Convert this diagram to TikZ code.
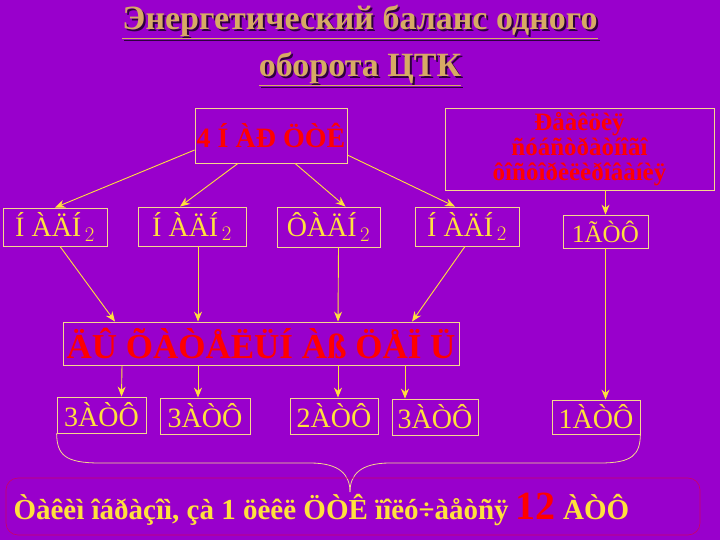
\documentclass[tikz,border=0pt]{standalone}
\usepackage{fontspec}
\setmainfont{Liberation Serif}
\usetikzlibrary{arrows.meta}
\definecolor{bg}{RGB}{153,0,204}
\definecolor{edge}{RGB}{245,215,140}
\definecolor{yel}{RGB}{255,225,60}
\definecolor{ttl}{RGB}{215,170,100}
\tikzset{
 box/.style={draw=edge, line width=0.8pt, inner sep=0pt},
 yt/.style={text=yel, font=\fontsize{28}{30}\selectfont},
 rt/.style={text=red, font=\bfseries\fontsize{28}{30}\selectfont},
 arr/.style={draw=yel, line width=0.9pt, -{Stealth[length=10pt,width=8pt]}},
 ttlt/.style={font=\bfseries\fontsize{34}{38}\selectfont}
}
\begin{document}
\begin{tikzpicture}[x=1pt,y=-1pt]
\fill[bg] (0,0) rectangle (720,540);
\useasboundingbox (0,0) rectangle (720,540);
% title
\node[ttlt, text=black!70!bg] (t1s) at (362,24) {\underline{Энергетический баланс одного}};
\node[ttlt, text=black!70!bg] (t2s) at (362,71) {\underline{оборота ЦТК}};
\node[ttlt, text=ttl] (t1) at (360,22) {\underline{Энергетический баланс одного}};
\node[ttlt, text=ttl] (t2) at (360,69) {\underline{оборота ЦТК}};
\node[box, minimum width=152, minimum height=55, rt] (top) at (271,135.5) {4 Í ÀÐ ÖÒÊ};
\node[box, minimum width=269, minimum height=82, rt, align=center, font=\bfseries\fontsize{25}{25}\selectfont] (sub) at (579.5,149) {Ðåàêöèÿ\\ñóáñòðàòíîãî\\ôîñôîðèëèðîâàíèÿ};
\node[box, minimum width=104, minimum height=38, yt] (n1) at (55,227) {Í ÀÄÍ$_{\,2}$};
\node[box, minimum width=108, minimum height=39, yt] (n2) at (192,226.5) {Í ÀÄÍ$_{\,2}$};
\node[box, minimum width=103, minimum height=40, yt] (n3) at (328.5,227) {ÔÀÄÍ$_{\,2}$};
\node[box, minimum width=104, minimum height=39, yt] (n4) at (467,226.5) {Í ÀÄÍ$_{\,2}$};
\node[box, minimum width=85, minimum height=33, yt, font=\fontsize{25}{27}\selectfont] (g1) at (605.5,231.5) {1ÃÒÔ};
\node[box, minimum width=396, minimum height=43, rt, font=\bfseries\fontsize{35}{37}\selectfont] (chain) at (261,343.5) {ÄÛ ÕÀÒÅËÜÍ Àß ÖÅÏ Ü};
\node[box, minimum width=89, minimum height=36, yt] (a1) at (101.5,415) {3ÀÒÔ};
\node[box, minimum width=90, minimum height=36, yt] (a2) at (205,416) {3ÀÒÔ};
\node[box, minimum width=88, minimum height=36, yt] (a3) at (334,416) {2ÀÒÔ};
\node[box, minimum width=86, minimum height=36, yt] (a4) at (435,417) {3ÀÒÔ};
\node[box, minimum width=88, minimum height=34, yt] (a5) at (596,417) {1ÀÒÔ};
% arrows
\draw[arr] (top.west |- 0,150) -- (n1.north);
\draw[arr] ([xshift=-33]top.south) -- ([xshift=-12]n2.north);
\draw[arr] ([xshift=24]top.south) -- ([xshift=17]n3.north);
\draw[arr] (top.east |- 0,155) -- ([xshift=-12]n4.north);
\draw[arr] (sub.south -| g1.north) -- (g1.north);
\draw[arr] ([xshift=5]n1.south) -- ([xshift=-146]chain.north);
\draw[arr] ([xshift=6]n2.south) -- ([xshift=-63]chain.north);
\draw[arr] ([xshift=10]n3.south) -- ([xshift=77]chain.north);
\draw[arr] ([xshift=-2]n4.south) -- ([xshift=151]chain.north);
\draw[arr] ([xshift=-139]chain.south) -- ([xshift=20]a1.north);
\draw[arr] ([xshift=-63]chain.south) -- ([xshift=-7]a2.north);
\draw[arr] ([xshift=77]chain.south) -- ([xshift=4]a3.north);
\draw[arr] ([xshift=144]chain.south) -- ([xshift=-30]a4.north);
\draw[arr] (g1.south) -- (g1.south |- a5.north);
% brace
\coordinate (bl) at (a1.south west);
\coordinate (br) at (a5.south east);
\coordinate (tip) at (350,492);
\draw[draw=edge, line width=0.8pt] (bl) .. controls (57,455) and (65,463) .. (100,463) -- (310,463) .. controls (340,463) and (350,475) .. (tip);
\draw[draw=edge, line width=0.8pt] (br) .. controls (640,455) and (632,463) .. (600,463) -- (390,463) .. controls (360,463) and (350,475) .. (tip);
% bottom text
\draw[red!50!bg, line width=0.6pt, rounded corners=12] (6,478) rectangle (700,535);
\node[text=yel, font=\bfseries\fontsize{29}{31}\selectfont, anchor=west] (bt) at (10,509) {Òàêèì îáðàçîì, çà 1 öèêë ÖÒÊ ïîëó÷àåòñÿ \textcolor{red}{\fontsize{40}{42}\selectfont 12} ÀÒÔ};
\end{tikzpicture}
\end{document}
